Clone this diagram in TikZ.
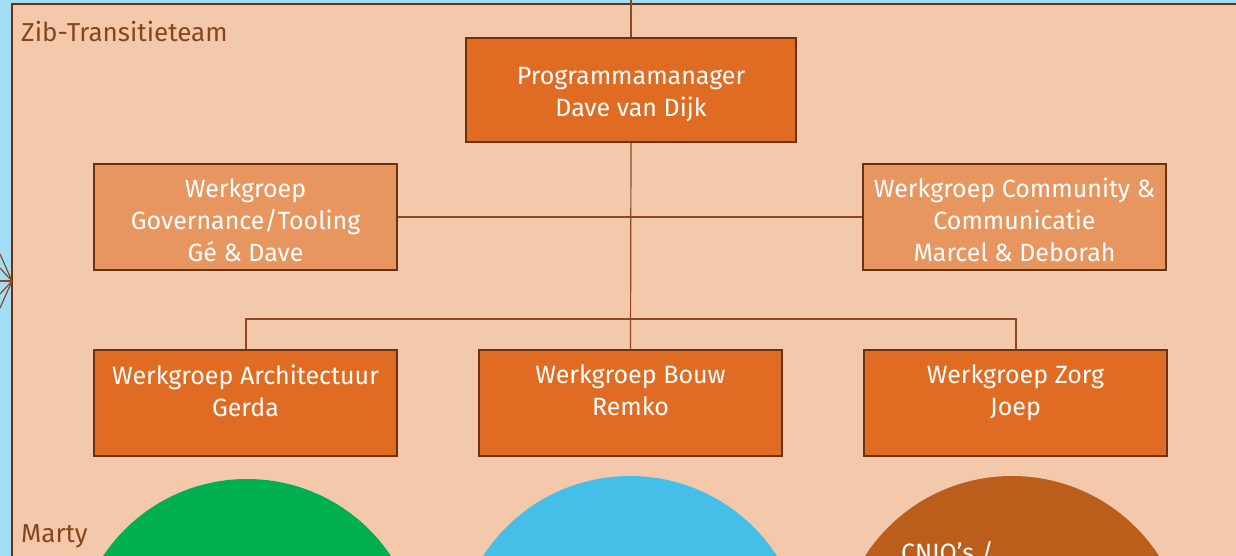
\documentclass[tikz,border=0pt]{standalone}
\usepackage{fontspec}
\setmainfont{Fira Sans}
\definecolor{bgblue}{HTML}{A3DDF5}
\definecolor{peach}{HTML}{F4C8AA}
\definecolor{darkor}{HTML}{E06C24}
\definecolor{lightor}{HTML}{E8965F}
\definecolor{bordbr}{HTML}{6B3210}
\definecolor{linebr}{HTML}{8B4A22}
\definecolor{txtbr}{HTML}{86461C}
\definecolor{cgreen}{HTML}{00AF50}
\definecolor{cblue}{HTML}{45BEE8}
\definecolor{cbrown}{HTML}{BC5E1B}
\tikzset{
  boxfont/.style={font=\fontsize{25}{32}\selectfont},
  box/.style={draw=bordbr, line width=2.2pt, minimum width=303pt, minimum height=106pt, inner sep=0pt},
  darkbox/.style={box, fill=darkor},
  lightbox/.style={box, fill=lightor},
  boxtext/.style={text=white, align=center, inner sep=0pt, boxfont},
  conn/.style={draw=linebr, line width=1.2pt},
  lbl/.style={text=txtbr, anchor=west, inner sep=0pt, font=\fontsize{26}{30}\selectfont},
}
\begin{document}
\begin{tikzpicture}[x=1pt,y=-1pt]
\useasboundingbox (0,0) rectangle (1236,556);
\clip (0,0) rectangle (1236,556);
\fill[bgblue] (0,0) rectangle (1236,556);
\fill[peach, draw=bordbr, line width=2.2pt] (12,4) rectangle (1260,600);
% left rays
\coordinate (hub) at (12,281);
\foreach \yy in {254,268,281,294,308} {
  \coordinate (r) at (0,\yy);
  \draw[conn] (hub) -- (r);
}
\node[lbl] (team) at (21,32) {Zib-Transitieteam};
\node[lbl] (marty) at (21,536) {Marty};
% circles
\fill[cgreen] (247,652) circle (173);
\fill[cblue] (630,651) circle (175);
\fill[cbrown] (1012,651) circle (175);
\node[text=white, anchor=west, inner sep=0pt, boxfont] (cnio) at (901,553) {CNIO’s /};
% boxes
\node[darkbox, minimum width=330pt, minimum height=104pt] (pm) at (631,90) {};
\node[lightbox] (gov) at (245.5,217) {};
\node[lightbox] (com) at (1014.5,217) {};
\node[darkbox] (arch) at (245.5,403) {};
\node[darkbox] (bouw) at (630.5,403) {};
\node[darkbox] (zorg) at (1015.5,403) {};
\node[boxtext] (pmt) at (631,95) {Programmamanager\\Dave van Dijk};
\node[boxtext] (govt) at (245.5,220) {Werkgroep\\Governance/Tooling\\Gé \& Dave};
\node[boxtext] (comt) at (1014.5,220) {Werkgroep Community \&\\Communicatie\\Marcel \& Deborah};
\node[boxtext, anchor=north] (archt) at (245.5,365) {Werkgroep Architectuur\\Gerda};
\node[boxtext, anchor=north] (bouwt) at (630.5,365) {Werkgroep Bouw\\Remko};
\node[boxtext, anchor=north] (zorgt) at (1015.5,365) {Werkgroep Zorg\\Joep};
% connectors
\coordinate (top) at (631,0);
\coordinate (hl) at (246,319);
\coordinate (hr) at (1016,319);
\draw[conn] (top) -- (pm.north);
\draw[conn] (pm.south) -- (bouw.north);
\draw[conn] (gov.east) -- (com.west);
\draw[conn] (arch.north -| hl) -- (hl) -- (hr) -- (zorg.north -| hr);
\end{tikzpicture}
\end{document}
